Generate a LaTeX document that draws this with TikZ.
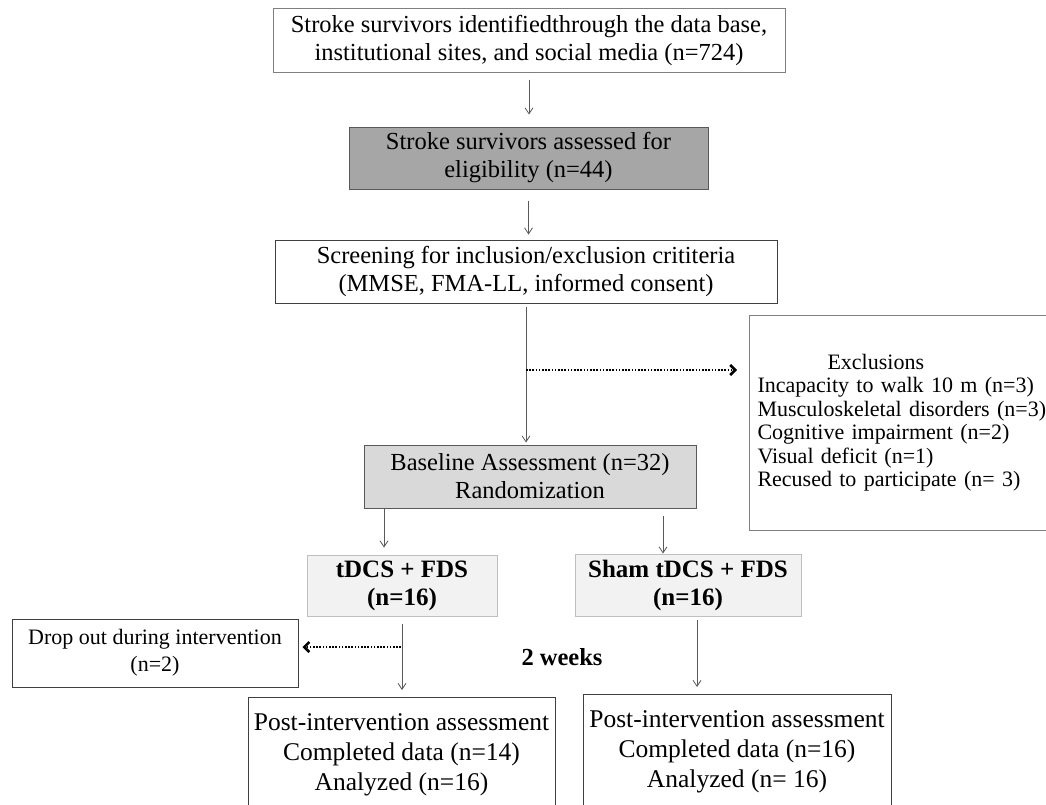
\documentclass[tikz,border=0pt]{standalone}
\usepackage{fontspec}
\setmainfont{Liberation Serif}
\usetikzlibrary{arrows.meta}
\definecolor{bordA}{HTML}{7F7F7F}
\definecolor{bordB}{HTML}{595959}
\definecolor{bordC}{HTML}{404040}
\definecolor{bordD}{HTML}{BFBFBF}
\definecolor{fillDark}{HTML}{A6A6A6}
\definecolor{fillMid}{HTML}{D9D9D9}
\definecolor{fillLight}{HTML}{F2F2F2}
\definecolor{arrgray}{HTML}{595959}
\tikzset{
  box/.style={draw=bordC, line width=1pt, align=center, inner sep=0pt,
    font=\fontsize{24.5pt}{28pt}\selectfont},
  boldbox/.style={box, draw=bordD, fill=fillLight,
    font=\fontsize{25pt}{28pt}\selectfont\bfseries},
  postbox/.style={draw=bordC, line width=1pt, align=center, inner xsep=0pt, inner ysep=16pt,
    font=\fontsize{25.5pt}{30pt}\selectfont},
  flow/.style={draw=arrgray, line width=0.8pt, -{Straight Barb[length=6pt,width=8pt]}},
  dotarrow/.style={draw=black, line width=1.6pt, dash pattern=on 1.6pt off 1.6pt,
    -{Straight Barb[length=5pt,width=10pt,line width=2.6pt]}}
}
\begin{document}
\begin{tikzpicture}[x=1pt,y=-1pt]
\useasboundingbox (0,0) rectangle (1046,804);
\fill[white] (0,0) rectangle (1046,804);
\clip (0,0) rectangle (1046,804);

% boxes
\node[box, draw=bordA, minimum width=512pt, minimum height=64pt] (b1) at (529,40)
  {Stroke survivors identifiedthrough the data base,\\institutional sites, and social media (n=724)};
\node[box, draw=bordB, fill=fillDark, minimum width=359pt, minimum height=62pt] (b2) at (528.5,158)
  {Stroke survivors assessed for\\eligibility (n=44)};
\node[box, minimum width=502pt, minimum height=63pt] (b3) at (526,271.5)
  {Screening for inclusion/exclusion crititeria\\(MMSE, FMA-LL, informed consent)};
\node[draw=bordA, line width=1pt, anchor=west, minimum height=215pt, text width=314pt,
  inner xsep=8pt, inner ysep=0pt, align=left, font=\fontsize{22pt}{23.5pt}\selectfont]
  (excl) at (749,422.5)
  {\hspace*{70pt}Exclusions\\Incapacity to walk 10 m (n=3)\\Musculoskeletal disorders (n=3)\\
   Cognitive impairment (n=2)\\Visual deficit (n=1)\\Recused to participate (n= 3)\par\vspace*{12pt}};
\node[box, draw=bordB, fill=fillMid, minimum width=332pt, minimum height=63pt] (base) at (530,476.5)
  {Baseline Assessment (n=32)\\Randomization};
\node[boldbox, minimum width=190pt, minimum height=61pt] (tdcs) at (402,585.5)
  {tDCS + FDS\\(n=16)};
\node[boldbox, minimum width=226pt, minimum height=62pt] (sham) at (688,585)
  {Sham tDCS + FDS\\(n=16)};
\node[box, minimum width=286pt, minimum height=68pt, font=\fontsize{22pt}{27pt}\selectfont] (drop) at (155,653)
  {Drop out during intervention\\(n=2)};
\node[postbox, anchor=north, minimum width=307pt] (post1) at (401.5,697)
  {Post-intervention assessment\\Completed data (n=14)\\Analyzed (n=16)};
\node[postbox, anchor=north, minimum width=308pt] (post2) at (737,694)
  {Post-intervention assessment\\Completed data (n=16)\\Analyzed (n= 16)};
\node[font=\fontsize{24.5pt}{28pt}\selectfont\bfseries] (weeks) at (562,657) {2 weeks};

% connectors
\draw[flow, shorten <=7pt, shorten >=12pt] (b1.south) -- (b1.south |- b2.north);
\draw[flow, shorten <=11pt, shorten >=5pt] (b2.south) -- (b2.south |- b3.north);
\draw[flow, shorten <=3pt, shorten >=2pt] (b3.south) -- (b3.south |- base.north);
\coordinate (split) at (526,370);
\draw[dotarrow, shorten >=12pt] (split) -- (split -| excl.west);
\draw[flow, shorten >=7pt] ([xshift=-18pt]tdcs.north |- base.south) -- ([xshift=-18pt]tdcs.north);
\draw[flow, shorten <=7pt] ([xshift=-25pt]sham.north |- base.south) -- ([xshift=-25pt]sham.north);
\draw[flow, shorten <=7pt, shorten >=7pt] (tdcs.south) -- (tdcs.south |- post1.north);
\coordinate (split2) at (401,647);
\draw[dotarrow, shorten >=4pt] (split2) -- (split2 -| drop.east);
\draw[flow, shorten <=3pt, shorten >=7pt] ([xshift=9pt]sham.south) -- ([xshift=9pt]sham.south |- post2.north);
\end{tikzpicture}
\end{document}
